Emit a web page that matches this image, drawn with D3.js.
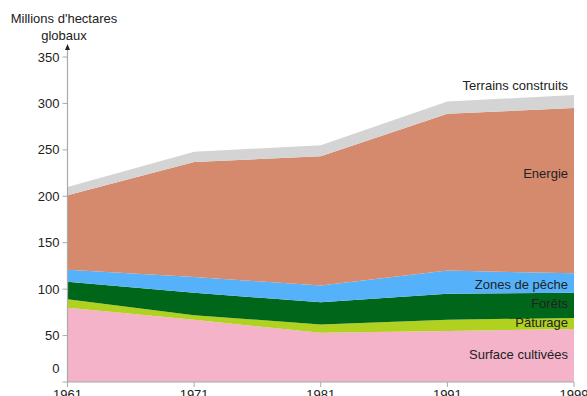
<!DOCTYPE html>
<html>
<head>
<meta charset="utf-8">
<script src="https://cdn.jsdelivr.net/npm/d3@7"></script>
<style>
  html, body { margin: 0; padding: 0; background: #fff; }
  svg { display: block; font-family: "Liberation Sans", Arial, Helvetica, sans-serif; }
</style>
</head>
<body>
<svg id="chart" width="587" height="396"></svg>
<script>
// Ecological footprint by land type, millions of global hectares
const years = ["1961", "1971", "1981", "1991", "1999"];
const surfaceCultivees = [80, 67, 53, 55, 57];
const paturage        = [9, 5, 9, 12, 12];
const forets          = [19, 24, 24, 28, 27];
const zonesPeche      = [13, 17, 18, 25, 21];
const energie         = [80, 124, 139, 169, 178];
const terrainsConstruits = [9, 11, 12, 13, 14];
const yTicks = [0, 50, 100, 150, 200, 250, 300, 350];

const seriesNames = ["Surface cultivées", "Pâturage", "Forêts", "Zones de pêche", "Energie", "Terrains construits"];
const seriesValues = [surfaceCultivees, paturage, forets, zonesPeche, energie, terrainsConstruits];
const seriesColors = ["#f4b3c9", "#b0d11f", "#00661a", "#55b2fa", "#d5896d", "#d4d4d4"];

const rows = years.map((y, i) => {
  const r = { year: y };
  seriesNames.forEach((n, k) => { r[n] = seriesValues[k][i]; });
  return r;
});

const svg = d3.select("#chart");
const x = d3.scalePoint().domain(years).range([67.5, 574]);
const y = d3.scaleLinear().domain([0, 350]).range([382, 57]);

const stack = d3.stack().keys(seriesNames);
const layers = stack(rows);

const area = d3.area()
  .x(d => x(d.data.year))
  .y0(d => y(d[0]))
  .y1(d => y(d[1]));

svg.append("g").selectAll("path")
  .data(layers)
  .join("path")
  .attr("d", area)
  .attr("fill", (d, i) => seriesColors[i]);

// Series labels, right aligned against the last year
const labelY = {
  "Terrains construits": 85,
  "Energie": 173,
  "Zones de pêche": 284,
  "Forêts": 303,
  "Pâturage": 322,
  "Surface cultivées": 354
};
svg.append("g").selectAll("text")
  .data(seriesNames)
  .join("text")
  .attr("x", 568)
  .attr("y", d => labelY[d])
  .attr("dy", "0.35em")
  .attr("text-anchor", "end")
  .attr("font-size", 13)
  .attr("fill", "#222")
  .text(d => d);

// Y axis
const axisColor = "#aaa";
const gy = svg.append("g").attr("transform", "translate(67.5,0)");
gy.append("line").attr("x1", 0).attr("x2", 0).attr("y1", y(0)).attr("y2", 48)
  .attr("stroke", axisColor).attr("stroke-width", 1.2);
gy.append("path").attr("d", "M0,44 L-2.5,50 L2.5,50 Z").attr("fill", "#222");
gy.selectAll("line.tick").data(yTicks).join("line").attr("class", "tick")
  .attr("x1", -5).attr("x2", 0).attr("y1", d => y(d)).attr("y2", d => y(d))
  .attr("stroke", axisColor).attr("stroke-width", 1);
gy.selectAll("text").data(yTicks).join("text")
  .attr("x", -8)
  .attr("y", d => d === 0 ? y(d) - 14 : y(d))
  .attr("dy", "0.35em")
  .attr("text-anchor", "end")
  .attr("font-size", 13)
  .attr("fill", "#222")
  .text(d => d);

// X axis
const gx = svg.append("g").attr("transform", `translate(0,${y(0)})`);
gx.append("line").attr("x1", x(years[0])).attr("x2", x(years[years.length - 1]))
  .attr("y1", 0).attr("y2", 0).attr("stroke", axisColor).attr("stroke-width", 1.2);
gx.selectAll("line.tick").data(years).join("line").attr("class", "tick")
  .attr("x1", d => x(d)).attr("x2", d => x(d)).attr("y1", 0).attr("y2", 5)
  .attr("stroke", axisColor).attr("stroke-width", 1);
gx.selectAll("text").data(years).join("text")
  .attr("x", d => x(d))
  .attr("y", 17)
  .attr("text-anchor", "middle")
  .attr("font-size", 13)
  .attr("fill", "#222")
  .text(d => d);

// Axis title
svg.append("text").attr("x", 64).attr("y", 23).attr("text-anchor", "middle")
  .attr("font-size", 13).attr("fill", "#222").text("Millions d'hectares");
svg.append("text").attr("x", 64).attr("y", 40).attr("text-anchor", "middle")
  .attr("font-size", 13).attr("fill", "#222").text("globaux");
</script>
</body>
</html>
